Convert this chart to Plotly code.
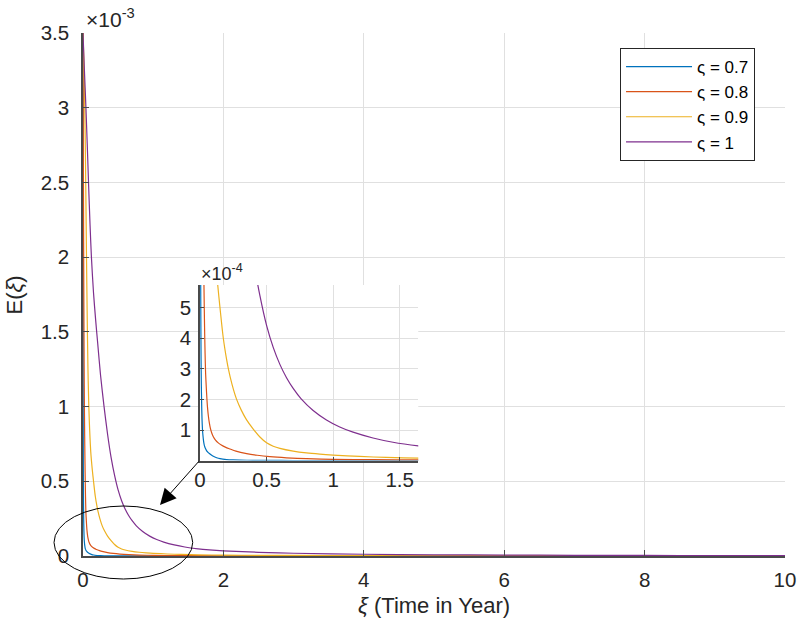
import plotly.graph_objects as go

# ---------------- data (E in units of 1e-3) ----------------
xi_07 = [0, 0.001, 0.002, 0.003, 0.004, 0.005, 0.006, 0.008, 0.010, 0.012, 0.015, 0.018,
         0.022, 0.026, 0.030, 0.035, 0.040, 0.05, 0.06, 0.07, 0.085, 0.1, 0.125, 0.15, 0.2,
         0.25, 0.3, 0.4, 0.5, 0.7, 1.0, 1.5, 2, 3, 4, 5, 6, 7, 8, 9, 10]
E_07 = [3.5, 2.5, 1.7, 1.15, 0.80, 0.60, 0.47, 0.33, 0.245, 0.19, 0.135, 0.105,
        0.082, 0.066, 0.055, 0.046, 0.040, 0.032, 0.027, 0.023, 0.018, 0.014, 0.0095, 0.0065, 0.0035,
        0.0022, 0.0015, 0.0009, 0.0006, 0.0004, 0.00025, 0.00015, 0.0001, 0.00006, 0.00004,
        0.00003, 0.000025, 0.00002, 0.000018, 0.000016, 0.000015]

xi_08 = [0, 0.003, 0.006, 0.009, 0.012, 0.015, 0.018, 0.021, 0.024, 0.027, 0.030, 0.034,
         0.038, 0.042, 0.047, 0.052, 0.057, 0.063, 0.07, 0.078, 0.088, 0.1, 0.115, 0.137, 0.16,
         0.19, 0.225, 0.27, 0.35, 0.43, 0.525, 0.65, 0.8, 1.0, 1.3, 1.64, 2, 3, 4, 5, 6, 7, 8, 9, 10]
E_08 = [3.5, 3.0, 2.55, 2.1, 1.72, 1.40, 1.14, 0.95, 0.80, 0.67, 0.56, 0.44,
        0.35, 0.285, 0.24, 0.20, 0.17, 0.145, 0.123, 0.105, 0.090, 0.078, 0.068, 0.058, 0.051,
        0.044, 0.038, 0.031, 0.023, 0.0175, 0.013, 0.0092, 0.0062, 0.0042, 0.0029, 0.0021, 0.0016,
        0.0009, 0.0006, 0.00045, 0.00035, 0.0003, 0.00025, 0.00022, 0.0002]

xi_09 = [0, 0.01, 0.02, 0.03, 0.04, 0.05, 0.06, 0.07, 0.08, 0.09, 0.10, 0.11, 0.12, 0.133,
         0.15, 0.175, 0.2, 0.213, 0.24, 0.275, 0.31, 0.35, 0.4, 0.45, 0.5, 0.55, 0.6, 0.7, 0.8,
         0.9, 1.0, 1.2, 1.4, 1.64, 2, 2.5, 3, 4, 5, 6, 7, 8, 9, 10]
E_09 = [3.5, 3.35, 3.15, 2.85, 2.45, 2.0, 1.6, 1.27, 1.05, 0.90, 0.79, 0.70, 0.64, 0.574,
        0.50, 0.40, 0.33, 0.30, 0.25, 0.20, 0.165, 0.133, 0.103, 0.077, 0.058, 0.047, 0.040,
        0.031, 0.025, 0.021, 0.018, 0.0135, 0.0105, 0.008, 0.006, 0.0045, 0.0036, 0.0026,
        0.002, 0.0016, 0.0013, 0.0011, 0.001, 0.0009]

xi_10 = [0, 0.02, 0.04, 0.06, 0.08, 0.10, 0.12, 0.15, 0.18, 0.21, 0.25, 0.30, 0.35, 0.40,
         0.45, 0.50, 0.55, 0.60, 0.65, 0.70, 0.76, 0.85, 0.95, 1.05, 1.15, 1.3, 1.45, 1.64, 1.8,
         2.0, 2.5, 3.0, 4.0, 5.0, 6.0, 7.0, 8.0, 9.0, 10.0]
E_10 = [3.50, 3.25, 3.02, 2.76, 2.48, 2.22, 2.00, 1.76, 1.58, 1.42, 1.21, 1.00, 0.815, 0.66,
        0.539, 0.442, 0.370, 0.3145, 0.271, 0.236, 0.202, 0.164, 0.133, 0.110, 0.093, 0.074,
        0.060, 0.048, 0.041, 0.0345, 0.0246, 0.0184, 0.0116, 0.0081, 0.0061, 0.00475, 0.00384,
        0.00318, 0.00269]

series_x = [xi_07, xi_08, xi_09, xi_10]
series_y = [E_07, E_08, E_09, E_10]
labels = ["ς = 0.7", "ς = 0.8", "ς = 0.9", "ς = 1"]
colors = ["#0072BD", "#D95319", "#EDB120", "#7E2F8E"]

main_xticks = [0, 2, 4, 6, 8, 10]
main_yticks = [0, 0.5, 1, 1.5, 2, 2.5, 3, 3.5]
main_yticktext = ["0", "0.5", "1", "1.5", "2", "2.5", "3", "3.5"]
inset_xticks = [0, 0.5, 1, 1.5]
inset_xticktext = ["0", "0.5", "1", "1.5"]
inset_yticks = [0.1, 0.2, 0.3, 0.4, 0.5]
inset_yticktext = ["1", "2", "3", "4", "5"]

FONT = "Liberation Sans, Arial, Helvetica, sans-serif"
AX = "#262626"
GRID = "#e0e0e0"
TICK_SIZE = 20.5

fig = go.Figure()
for xs, ys, lab, col in zip(series_x, series_y, labels, colors):
    fig.add_trace(go.Scatter(x=xs, y=ys, mode="lines", name=lab,
                             line=dict(color=col, width=1.2, shape="spline", smoothing=0.8),
                             xaxis="x", yaxis="y"))
for xs, ys, lab, col in zip(series_x, series_y, labels, colors):
    fig.add_trace(go.Scatter(x=xs, y=ys, mode="lines", name=lab, showlegend=False,
                             line=dict(color=col, width=1.2, shape="spline", smoothing=0.8),
                             xaxis="x2", yaxis="y2"))

common = dict(showline=True, linecolor="#4a4a4a", linewidth=1.5, ticks="inside",
              tickcolor="#4a4a4a", showgrid=True, gridcolor=GRID, gridwidth=1,
              zeroline=False, automargin=False,
              tickfont=dict(family=FONT, size=TICK_SIZE, color=AX))

fig.update_layout(
    width=797, height=622,
    margin=dict(l=83, r=12, t=33, b=66),
    paper_bgcolor="white", plot_bgcolor="white",
    font=dict(family=FONT, color=AX),
    xaxis=dict(domain=[0, 1], range=[0, 10], tickvals=main_xticks, ticklen=6,
               anchor="y", ticklabelstandoff=5, **common),
    yaxis=dict(domain=[0, 1], range=[0, 3.5], tickvals=main_yticks, ticktext=main_yticktext,
               ticklen=6, anchor="x", ticklabelstandoff=8, **common),
    xaxis2=dict(domain=[0.1667, 0.4776], range=[0, 1.64], tickvals=inset_xticks,
                ticktext=inset_xticktext, ticklen=4, anchor="y2", ticklabelstandoff=0, **common),
    yaxis2=dict(domain=[0.1824, 0.5182], range=[0, 0.574], tickvals=inset_yticks,
                ticktext=inset_yticktext, ticklen=4, anchor="x2", ticklabelstandoff=3, **common),
    legend=dict(x=0.765, y=0.9713, xanchor="left", yanchor="top", bgcolor="white",
                bordercolor=AX, borderwidth=1, font=dict(family=FONT, size=17, color="#000"),
                tracegroupgap=0, itemwidth=66),
    showlegend=True,
)

fig.add_shape(type="circle", xref="paper", yref="paper",
              x0=-0.0413, x1=0.1563, y0=-0.044, y1=0.0956,
              line=dict(color="black", width=1), layer="above")

fig.add_annotation(x=0.1097, y=0.0975, xref="paper", yref="paper", text="",
                   showarrow=True, ax=40, ay=-45, arrowhead=2, arrowsize=3.2,
                   arrowwidth=1, arrowcolor="black")

fig.add_annotation(x=0.0014, y=1.0, xref="paper", yref="paper", xanchor="left",
                   yanchor="bottom", showarrow=False, text="×10<sup>-3</sup>",
                   font=dict(family=FONT, size=21, color=AX))
fig.add_annotation(x=0.1652, y=0.516, xref="paper", yref="paper", xanchor="left",
                   yanchor="bottom", showarrow=False, text="×10<sup>-4</sup>",
                   font=dict(family=FONT, size=18, color=AX))

fig.add_annotation(x=0.5, y=-0.0937, xref="paper", yref="paper", xanchor="center",
                   yanchor="middle", showarrow=False, text="<i>ξ</i> (Time in Year)",
                   font=dict(family=FONT, size=22, color=AX))
fig.add_annotation(x=-0.0969, y=0.5, xref="paper", yref="paper", xanchor="center",
                   yanchor="middle", showarrow=False, text="E(<i>ξ</i>)", textangle=-90,
                   font=dict(family=FONT, size=22, color=AX))

fig.write_html("out.html")
